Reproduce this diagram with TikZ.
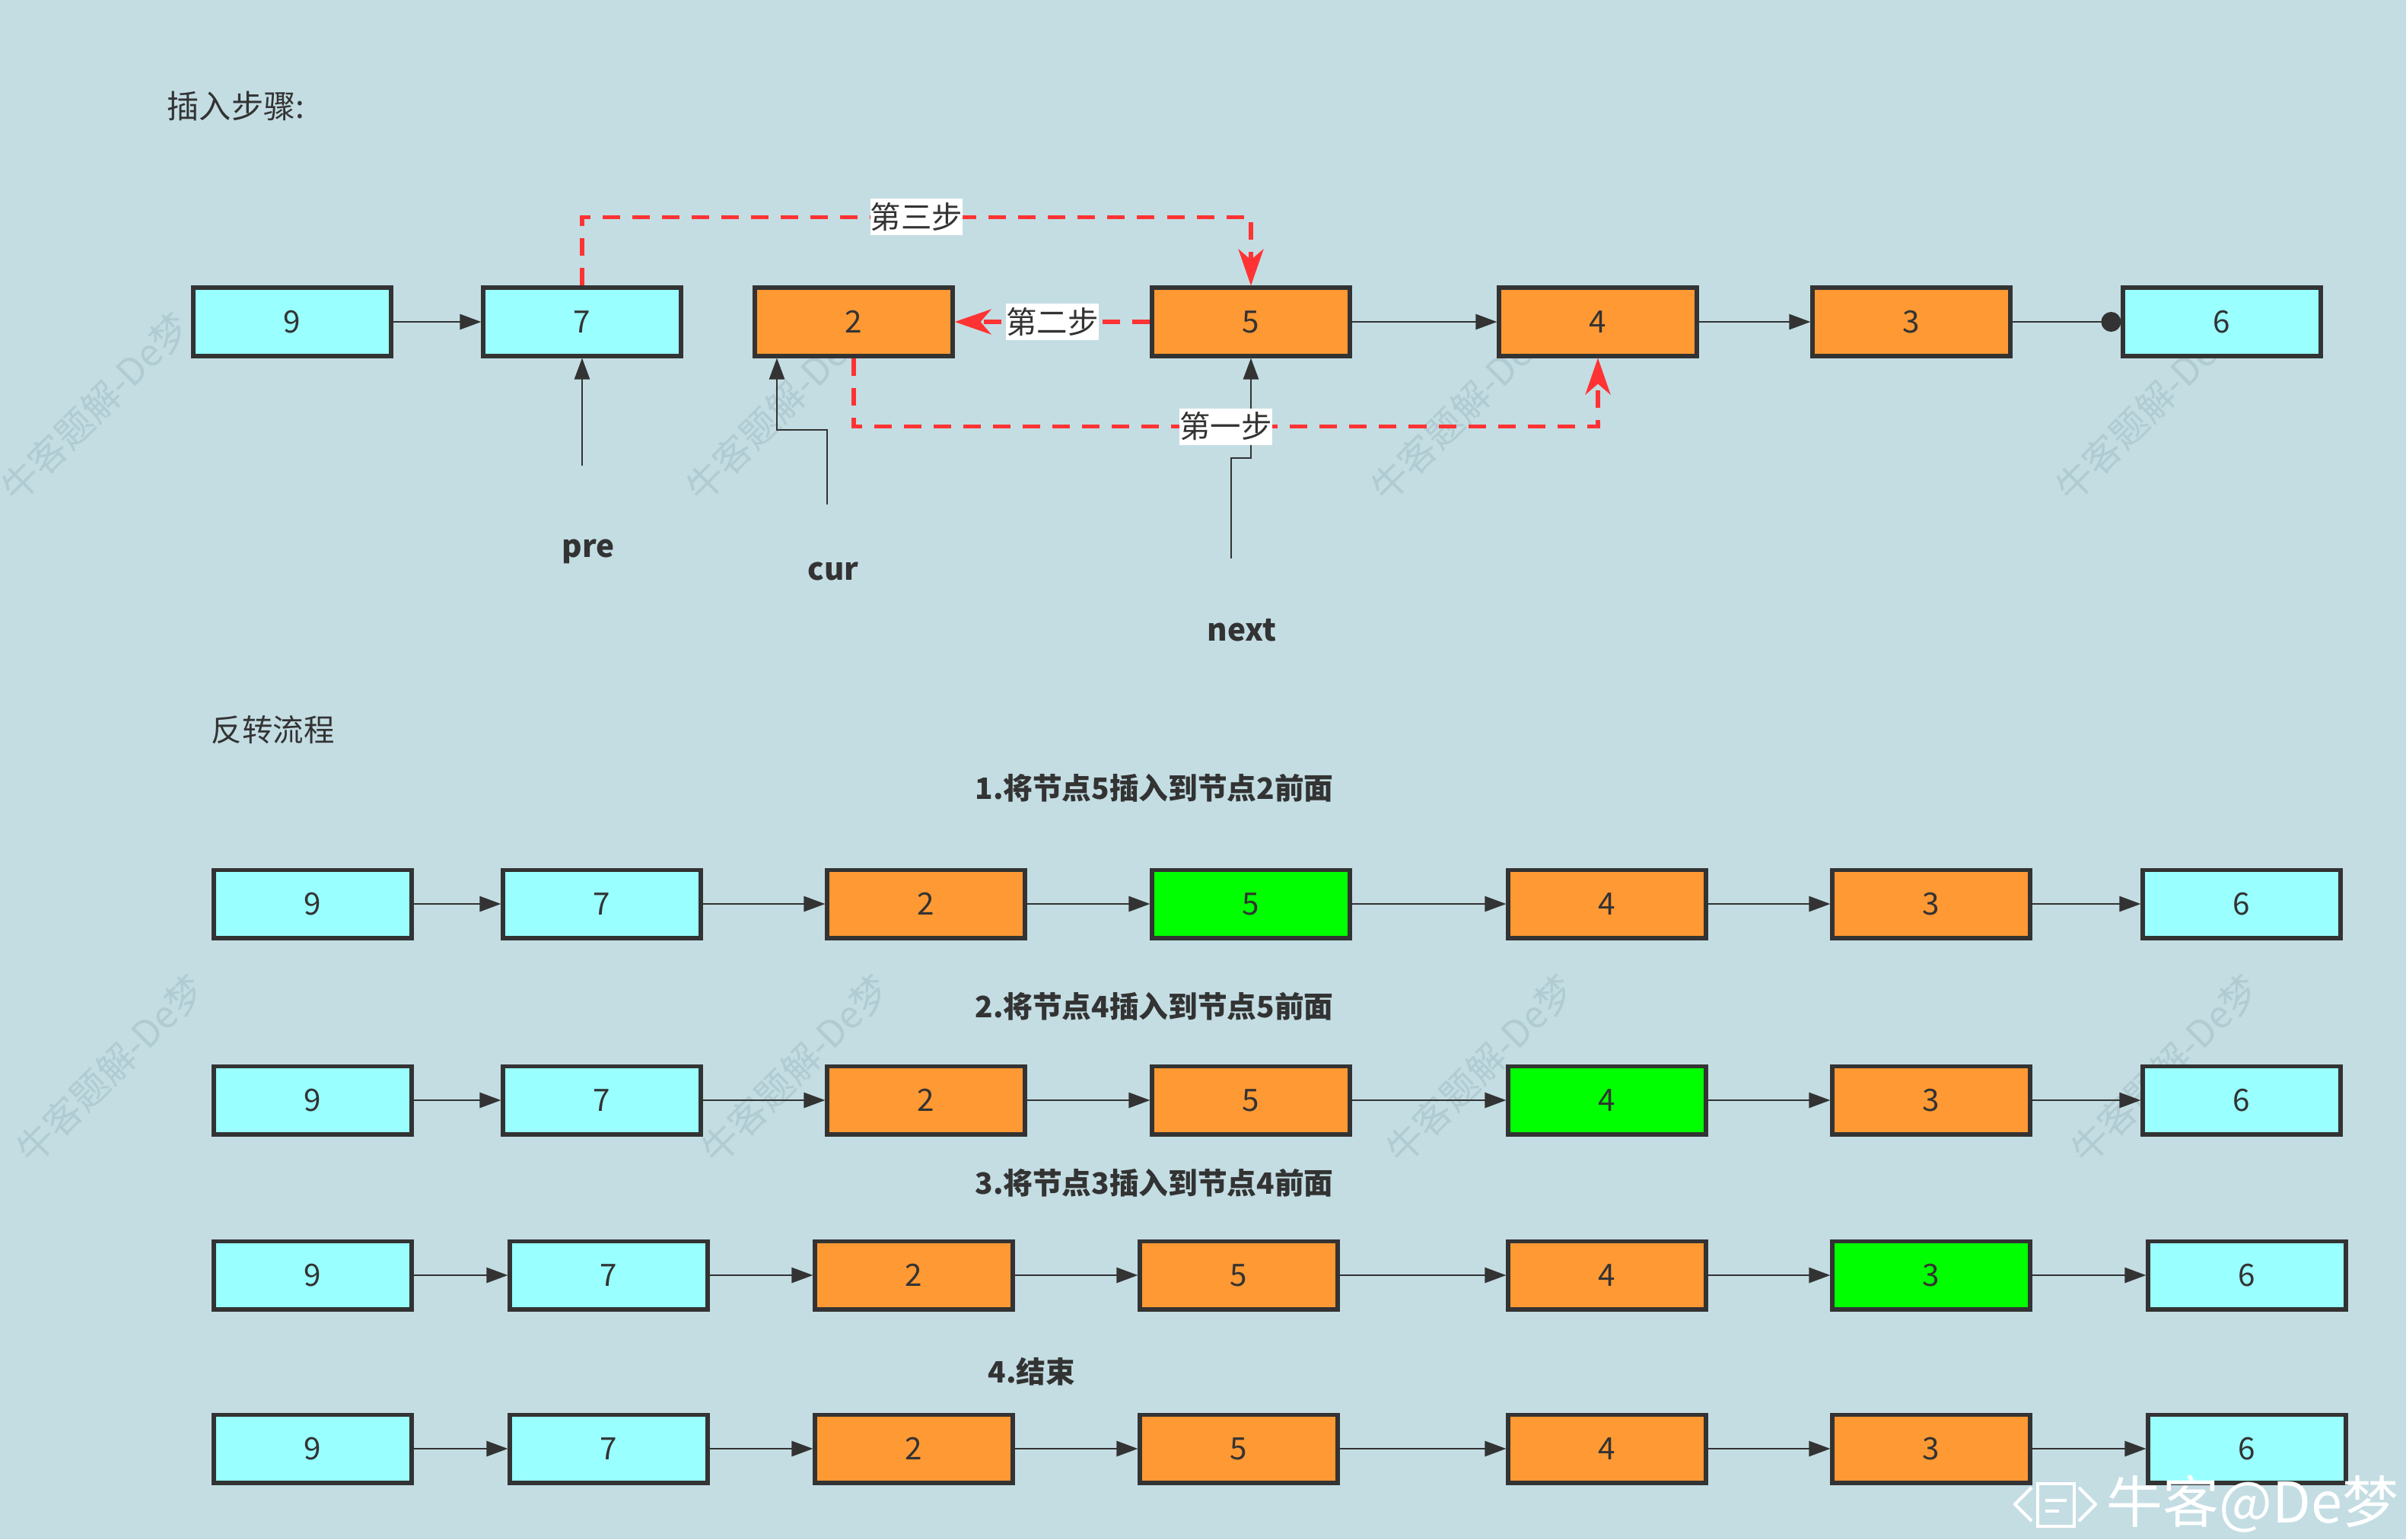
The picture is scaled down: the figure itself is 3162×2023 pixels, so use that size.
\documentclass[tikz,border=0pt]{standalone}
\usepackage{fontspec}
\setmainfont{Noto Sans CJK SC}
\usetikzlibrary{arrows.meta}
\definecolor{fond}{RGB}{195,221,227}
\definecolor{cyanc}{RGB}{153,255,255}
\definecolor{orangec}{RGB}{255,153,51}
\definecolor{greenc}{RGB}{0,255,0}
\definecolor{bordc}{RGB}{51,51,51}
\definecolor{redc}{RGB}{255,51,51}
\definecolor{wmc}{RGB}{176,204,210}
\def\xa{411,791,1217,1644,2112,2538,2946}
\def\xb{411,800,1201,1628,2112,2538,2953}

\begin{document}
\begin{tikzpicture}[x=0.01cm,y=-0.01cm,font=\fontsize{11.5}{14}\selectfont,text=bordc,
	box/.style={draw=bordc,line width=1.7pt,minimum width=2.59cm,minimum height=0.89cm,inner sep=0pt},
	nxt/.style={draw=bordc,line width=0.75pt,-{Triangle[length=0.28cm,width=0.2cm]}},
	dot/.style={draw=bordc,line width=0.75pt,-{Circle[length=0.26cm]}},
	redarr/.style={draw=redc,line width=1.5pt,dash pattern=on 0.23cm off 0.16cm,-{Stealth[length=0.48cm,width=0.33cm,inset=0.14cm]}},
	steplbl/.style={fill=white,inner xsep=0pt,inner ysep=1.5pt},
	gras/.style={font=\fontsize{11}{14}\selectfont\bfseries},
	wmark/.style={text=wmc,rotate=45,font=\fontsize{14}{16}\selectfont}]
					%\draw[help lines] (0,0) grid[step=100] (3162,2023);
					\useasboundingbox (0,0) rectangle (3162,2023);
					\fill[fond] (0,0) rectangle (3162,2023);
					
					%FILIGRANE
					\foreach \wx in {0,900,1800,2700}{
						\node[wmark] (wa\wx) at (125+\wx,535) {牛客题解-De梦};
						\node[wmark] (wb\wx) at (145+\wx,1405) {牛客题解-De梦};
					}
					
					%TITRES
					\node[anchor=west,inner sep=0pt,font=\fontsize{12}{14}\selectfont] (T1) at (219,139) {插入步骤:};
					\node[anchor=west,inner sep=0pt] (T2) at (277,959) {反转流程};
					
					%LISTE DU HAUT
					\node[box,fill=cyanc] (t9) at (384,423) {9};
					\node[box,fill=cyanc] (t7) at (765,423) {7};
					\node[box,fill=orangec] (t2) at (1122,423) {2};
					\node[box,fill=orangec] (t5) at (1644,423) {5};
					\node[box,fill=orangec] (t4) at (2100,423) {4};
					\node[box,fill=orangec] (t3) at (2512,423) {3};
					\node[box,fill=cyanc] (t6) at (2920,423) {6};
					\draw[nxt] (t9) -- (t7);
					\draw[nxt] (t5) -- (t4);
					\draw[nxt] (t4) -- (t3);
					\draw[dot] (t3) -- (t6);
					
					%POINTEURS
					\coordinate (pre0) at (765,612);
					\coordinate (cur0) at (1087,663);
					\coordinate (next0) at (1618,734);
					\draw[nxt] (pre0) -- (t7.south);
					\draw[nxt] (cur0) -- (1087,565) -- (1021,565) -- (1021,565 |- t2.south);
					\draw[nxt] (next0) -- (1618,602) -- (1644,602) -- (t5.south);
					\node[gras,font=\fontsize{11.5}{14}\selectfont\bfseries,anchor=base] (pre) at (773,732) {pre};
					\node[gras,font=\fontsize{11.5}{14}\selectfont\bfseries,anchor=base] (cur) at (1095,762) {cur};
					\node[gras,font=\fontsize{11.5}{14}\selectfont\bfseries,anchor=base] (next) at (1632,842) {next};
					
					%ETAPES
					\draw[redarr] (t2.south) -- ++(0,90) coordinate (s1) -- node[steplbl] {第一步} (s1 -| t4.south) -- (t4.south);
					\draw[redarr] (t5.west) -- node[steplbl] {第二步} (t2.east);
					\draw[redarr] (t7.north) -- ++(0,-90) coordinate (s3) -- node[steplbl] {第三步} (s3 -| t5.north) -- (t5.north);
					
					%REVERSION
					\node[gras] (h1) at (1517,1036) {1.将节点5插入到节点2前面};
					\node[gras] (h2) at (1517,1323) {2.将节点4插入到节点5前面};
					\node[gras] (h3) at (1517,1555) {3.将节点3插入到节点4前面};
					\node[gras] (h4) at (1356,1803) {4.结束};
					\foreach \row/\yy/\hil/\xs in {1/1188/5/\xa,2/1446/4/\xa,3/1676/3/\xb,4/1904/0/\xb}{
						\foreach \v/\col [count=\idx] in {9/cyanc,7/cyanc,2/orangec,5/orangec,4/orangec,3/orangec,6/cyanc}{
							\pgfmathsetmacro\xx{{\xs}[\idx-1]}
							\ifnum\v=\hil \def\col{greenc}\fi
							\node[box,fill=\col] (r\row-\idx) at (\xx,\yy) {\v};
							\ifnum\idx>1 \pgfmathtruncatemacro\prv{\idx-1}\draw[nxt] (r\row-\prv) -- (r\row-\idx);\fi
						}
					}
					
					%LOGO
					\draw[white,line width=1.2pt,line join=round] (2670,1955) -- (2648,1977) -- (2670,1999);
					\draw[white,line width=1.2pt,line join=round] (2732,1955) -- (2754,1977) -- (2732,1999);
					\draw[white,line width=1.2pt] (2678,1950) rectangle (2726,2006);
					\draw[white,line width=1pt] (2688,1972) -- (2716,1972) (2688,1986) -- (2706,1986);
					\node[anchor=west,inner sep=0pt,text=white,font=\fontsize{21}{24}\selectfont] (brand) at (2768,1977) {牛客@De梦};
				  \end{tikzpicture}
\end{document}
